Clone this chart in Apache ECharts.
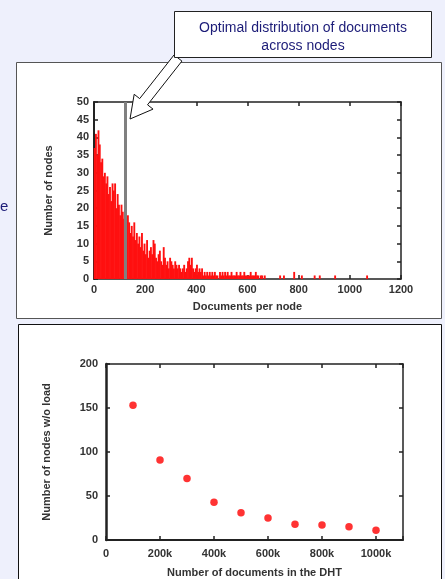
<!DOCTYPE html>
<html><head><meta charset="utf-8">
<script src="https://cdn.jsdelivr.net/npm/echarts@6/dist/echarts.min.js"></script>
<style>html,body{margin:0;padding:0;background:#eef0fc;}#c{width:445px;height:579px;}</style>
</head><body><div id="c"></div>
<script>
// ---- Data ----
const binWidth = 5; // documents per histogram bin
const histBinStarts = [0,5,10,15,20,25,30,35,40,45,50,55,60,65,70,75,80,85,90,95,100,105,110,115,120,125,130,135,140,145,150,155,160,165,170,175,180,185,190,195,200,205,210,215,220,225,230,235,240,245,250,255,260,265,270,275,280,285,290,295,300,305,310,315,320,325,330,335,340,345,350,355,360,365,370,375,380,385,390,395,400,405,410,415,420,425,430,435,440,445,450,455,460,465,470,475,480,490,495,500,505,510,515,520,525,530,535,540,545,550,555,560,565,570,575,580,585,590,595,600,605,610,615,620,625,630,635,640,650,655,665,725,740,780,810,860,880,940,1065];
const histCounts    = [37,41,35,42,38,33,34,29,30,27,29,24,26,22,27,25,27,20,24,21,18,21,19,17,20,14,18,16,13,15,12,16,11,13,10,12,9,13,8,10,7,11,6,8,9,7,11,10,6,5,7,8,5,4,9,6,4,5,3,6,5,4,3,5,4,3,4,3,2,3,4,2,3,5,6,4,6,3,2,3,4,2,3,2,3,1,2,1,2,1,2,1,2,1,2,1,1,2,1,2,1,2,1,2,1,1,2,1,1,1,2,1,1,2,1,1,2,1,1,1,1,2,1,1,1,2,1,1,1,1,1,1,1,2,1,1,1,1,1];
const optimalDocsPerNode = 122;

const dhtDocsK = [100,200,300,400,500,600,700,800,900,1000];
const nodesWithoutLoad = [153,91,70,43,31,25,18,17,15,11];

// ---- Chart ----
const chart = echarts.init(document.getElementById('c'));
const histData = histBinStarts.map((x,i)=>[x, histCounts[i]]);
const FONT = 'Liberation Sans, Arial, sans-serif';
const tickFont = {fontSize:11, fontWeight:'bold', color:'#333', fontFamily:FONT};
const nameFont = {fontSize:11, fontWeight:'bold', color:'#333', fontFamily:FONT};
const axLine = (w)=>({show:true, onZero:false, lineStyle:{color:'#222', width:w}});
const inTick = {show:true, inside:true, length:4, lineStyle:{color:'#222', width:1.5}};

// arrow polygon geometry
const tail=[178,58], tip=[130,119];
const dx=tip[0]-tail[0], dy=tip[1]-tail[1], L=Math.hypot(dx,dy);
const ux=dx/L, uy=dy/L, nx=-uy, ny=ux;
const hw=5, hh=12, hl=22;
const bx=tip[0]-hl*ux, by=tip[1]-hl*uy;
const arrowPts=[
 [tail[0]-hw*nx, tail[1]-hw*ny],[bx-hw*nx, by-hw*ny],[bx-hh*nx, by-hh*ny],tip,
 [bx+hh*nx, by+hh*ny],[bx+hw*nx, by+hw*ny],[tail[0]+hw*nx, tail[1]+hw*ny]];

chart.setOption({
  animation:false,
  backgroundColor:'#eef0fc',
  graphic:[
    {type:'rect', z:-10, shape:{x:16.5,y:62.5,width:425,height:256}, style:{fill:'#fff', stroke:'#555', lineWidth:1}},
    {type:'rect', z:-10, shape:{x:18.5,y:324.5,width:423,height:260}, style:{fill:'#fff', stroke:'#111', lineWidth:1}},
    {type:'text', z:10, left:0, top:199, style:{text:'e', fontSize:15, fill:'#1c1c78', fontFamily:FONT}},
    {type:'polygon', z:20, shape:{points:arrowPts}, style:{fill:'#fff', stroke:'#111', lineWidth:1}},
    {type:'rect', z:21, shape:{x:174.5,y:11.5,width:257,height:46}, style:{fill:'#fff', stroke:'#222', lineWidth:1}},
    {type:'text', z:22, x:303, y:19, style:{text:'Optimal distribution of documents\nacross nodes', align:'center', fontSize:14, lineHeight:18, fill:'#1c1c78', fontFamily:FONT}}
  ],
  grid:[
    {left:94, right:44, top:102, height:177},
    {left:106, right:42, top:364, height:177}
  ],
  xAxis:[
    {gridIndex:0, type:'value', min:0, max:1200, interval:200, position:'bottom',
     axisLine:axLine(1.5), axisTick:inTick, splitLine:{show:false},
     axisLabel:Object.assign({margin:5, formatter:v=>String(v)}, tickFont),
     name:'Documents per node', nameLocation:'middle', nameGap:22, nameTextStyle:nameFont},
    {gridIndex:0, type:'value', min:0, max:1200, interval:200, position:'top',
     axisLine:axLine(1.5), axisTick:inTick, splitLine:{show:false}, axisLabel:{show:false}},
    {gridIndex:1, type:'value', min:0, max:1100, interval:200, position:'bottom',
     axisLine:axLine(2), axisTick:inTick, splitLine:{show:false},
     axisLabel:Object.assign({margin:8, formatter:v=> v===0?'0':(v%200===0? v+'k':'')}, tickFont),
     name:'Number of documents in the DHT', nameLocation:'middle', nameGap:27, nameTextStyle:nameFont},
    {gridIndex:1, type:'value', min:0, max:1100, interval:200, position:'top',
     axisLine:axLine(1.5), axisTick:inTick, splitLine:{show:false}, axisLabel:{show:false}}
  ],
  yAxis:[
    {gridIndex:0, type:'value', min:0, max:50, interval:5, position:'left',
     axisLine:axLine(2), axisTick:inTick, splitLine:{show:false},
     axisLabel:Object.assign({margin:5}, tickFont),
     name:'Number of nodes', nameLocation:'middle', nameGap:40, nameTextStyle:nameFont},
    {gridIndex:0, type:'value', min:0, max:50, interval:5, position:'right',
     axisLine:axLine(1.5), axisTick:inTick, splitLine:{show:false}, axisLabel:{show:false}},
    {gridIndex:1, type:'value', min:0, max:200, interval:50, position:'left',
     axisLine:axLine(2.5), axisTick:inTick, splitLine:{show:false},
     axisLabel:Object.assign({margin:8}, tickFont),
     name:'Number of nodes w/o load', nameLocation:'middle', nameGap:54, nameTextStyle:nameFont},
    {gridIndex:1, type:'value', min:0, max:200, interval:50, position:'right',
     axisLine:axLine(1.5), axisTick:inTick, splitLine:{show:false}, axisLabel:{show:false}}
  ],
  series:[
    {type:'custom', xAxisIndex:0, yAxisIndex:0, data:histData,
     renderItem:function(params, api){
       const x=api.value(0), y=api.value(1);
       const p0=api.coord([x,0]), p1=api.coord([x+binWidth,y]);
       return {type:'rect', shape:{x:p0[0]-0.3, y:p1[1], width:Math.max(p1[0]-p0[0]+0.6,1.2), height:p0[1]-p1[1]},
               style:{fill:'#ff1010'}};
     },
     markLine:{silent:true, symbol:'none', label:{show:false},
       lineStyle:{color:'#808080', width:3, type:'solid'},
       data:[{xAxis:optimalDocsPerNode}]}
    },
    {type:'scatter', xAxisIndex:2, yAxisIndex:2, symbol:'circle', symbolSize:7.5,
     itemStyle:{color:'#ff0000'},
     data:dhtDocsK.map((x,i)=>[x, nodesWithoutLoad[i]])}
  ]
});
</script></body></html>
